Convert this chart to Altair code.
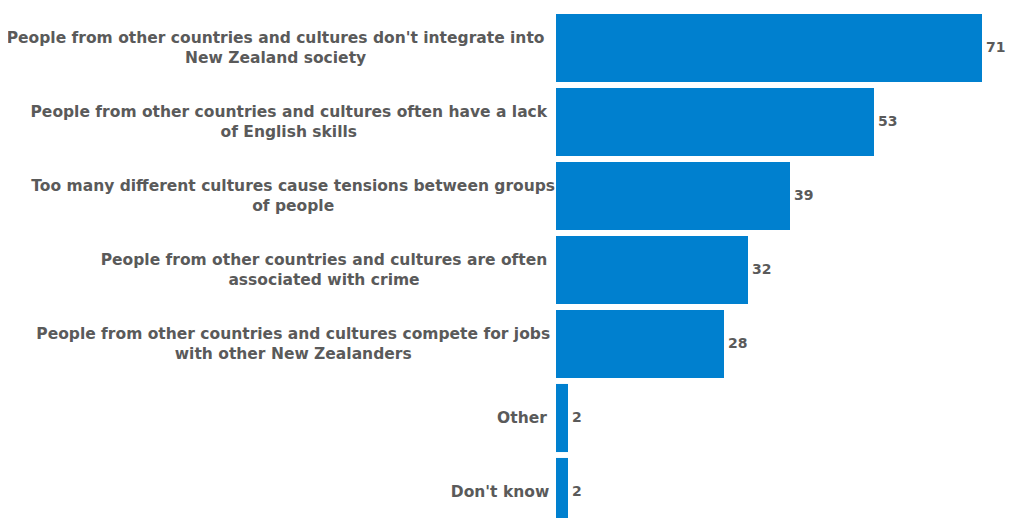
import altair as alt
import pandas as pd

labels = [
    "People from other countries and cultures don't integrate into|New Zealand society",
    "People from other countries and cultures often have a lack|of English skills",
    "Too many different cultures cause tensions between groups|of people",
    "People from other countries and cultures are often|associated with crime",
    "People from other countries and cultures compete for jobs|with other New Zealanders",
    "Other",
    "Don't know",
]
values = [71, 53, 39, 32, 28, 2, 2]

df = pd.DataFrame({"label": labels, "value": values})
order = labels

FONT = "DejaVu Sans"
GREY = "#5a5a5a"
BLUE = "#0080cf"

y = alt.Y("label:N", sort=order, axis=None,
          scale=alt.Scale(paddingInner=0.08, paddingOuter=0.04))

bars = alt.Chart(df).mark_bar(color=BLUE).encode(
    x=alt.X("value:Q", axis=None, scale=alt.Scale(domain=[0, 75])),
    y=y,
)

vals = alt.Chart(df).mark_text(
    align="left", baseline="middle", dx=4, font=FONT, fontSize=14,
    fontWeight="bold", color=GREY,
).encode(
    x=alt.X("value:Q", scale=alt.Scale(domain=[0, 75])),
    y=y,
    text=alt.Text("value:Q"),
)

base_cats = alt.Chart(df).transform_calculate(
    lines="split(datum.label, '|')",
    cx="-12 - length(split(datum.label, '|')[0]) * 4.4",
    multi="indexof(datum.label, '|') >= 0",
)

text_kw = dict(align="center", baseline="middle", font=FONT, fontSize=15.5,
               fontWeight="bold", color=GREY, lineHeight=20)
enc = dict(x=alt.X("cx:Q", scale=None), y=y, text=alt.Text("lines:N"))

cats_multi = base_cats.transform_filter("datum.multi").mark_text(
    dy=-10, **text_kw).encode(**enc)
cats_single = base_cats.transform_filter("!datum.multi").mark_text(
    **text_kw).encode(**enc)

chart = alt.layer(bars, vals, cats_multi, cats_single).properties(
    width=450,
    height=518,
    autosize=alt.AutoSizeParams(type="none"),
    padding={"left": 548, "top": 3, "right": 0, "bottom": 0},
).configure_view(stroke=None)

chart.save("out.html", embed_options={"renderer": "svg", "actions": False})
